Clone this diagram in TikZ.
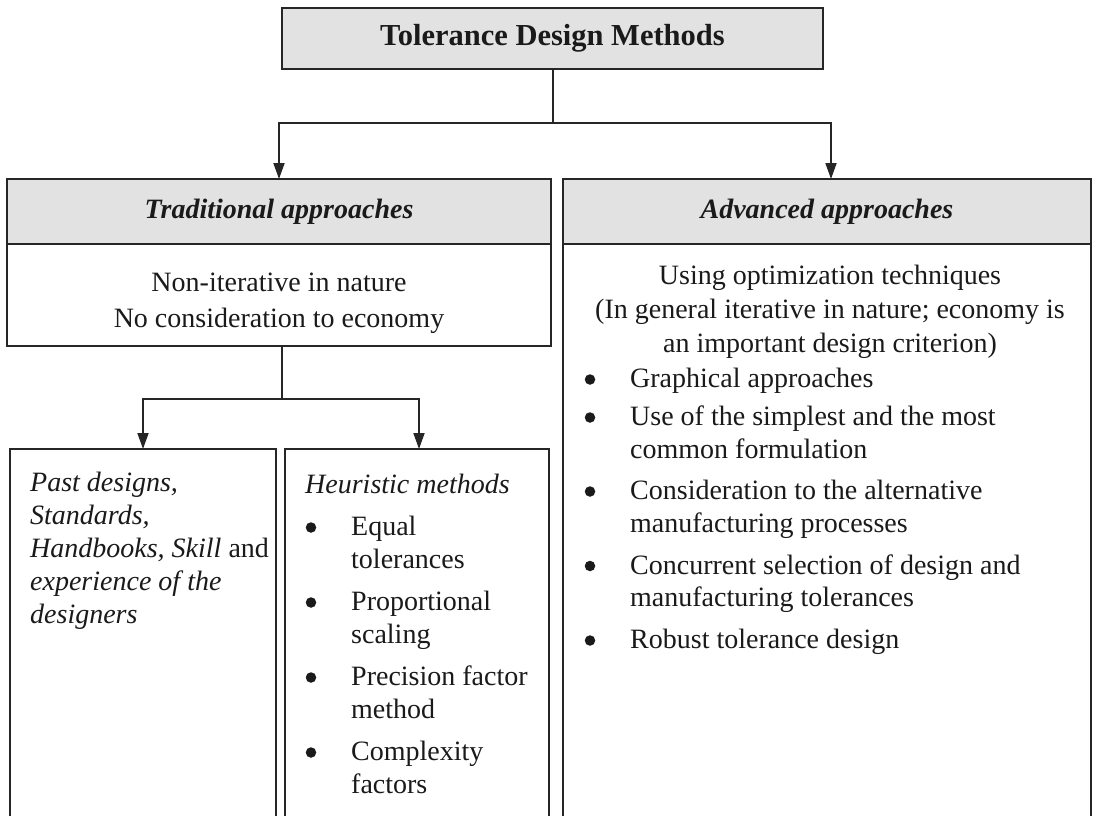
\documentclass[tikz,border=0pt]{standalone}
\usepackage{fontspec}
\setmainfont{Liberation Serif}
\usetikzlibrary{arrows.meta}
\definecolor{linec}{HTML}{262626}
\definecolor{headfill}{HTML}{E2E2E2}
\definecolor{inkc}{HTML}{1A1A1A}
\newcommand\bodysize{\fontsize{28}{33.5}\selectfont}
\newcommand\titlesize{\fontsize{30.5}{36}\selectfont}
\begin{document}
\begin{tikzpicture}[x=1pt,y=-1pt,
  frame/.style={draw=linec, line width=1.8pt, inner sep=0pt, outer sep=0pt},
  head/.style={frame, fill=headfill, text=inkc},
  conn/.style={draw=linec, line width=1.8pt, line join=miter},
  arr/.style={conn, -{Triangle[width=11pt,length=16pt]}},
  txt/.style={inner sep=0pt, anchor=base, font=\bodysize, text=inkc},
  ltxt/.style={txt, anchor=base west},
  itxt/.style={ltxt, font=\bodysize\itshape},
  dot/.style={circle, fill=inkc, inner sep=0pt, minimum size=10.5pt}]
\fill[white] (0,0) rectangle (1095,816);
\useasboundingbox (0,0) rectangle (1095,816);

% boxes
\node[head, minimum width=541pt, minimum height=61pt, font=\titlesize\bfseries] (top) at (552.5,38.5) {Tolerance Design Methods};
\node[frame, minimum width=544pt, minimum height=102pt] (tradbody) at (279,295) {};
\node[head, minimum width=544pt, minimum height=65pt, font=\bodysize\bfseries\itshape] (trad) at (279,211.5) {Traditional approaches};
\node[frame, minimum width=528pt, minimum height=596pt] (advbody) at (827,542) {};
\node[head, minimum width=528pt, minimum height=65pt, font=\bodysize\bfseries\itshape] (adv) at (827,211.5) {Advanced approaches};
\node[frame, minimum width=266pt, minimum height=391pt] (past) at (143,644.5) {};
\node[frame, minimum width=264pt, minimum height=391pt] (heur) at (417,644.5) {};

% connectors
\coordinate (j1) at (553,123);
\coordinate (jl) at (279,123);
\coordinate (jr) at (831,123);
\draw[conn] (j1 |- top.south) -- (j1);
\draw[arr] (j1) -- (jl) -- (trad.north);
\draw[arr] (j1) -- (jr) -- (jr |- adv.north);
\coordinate (j2) at (282,399);
\coordinate (jp) at (143,399);
\coordinate (jh) at (419,399);
\draw[conn] (j2 |- tradbody.south) -- (j2);
\draw[arr] (j2) -- (jp) -- (past.north);
\draw[arr] (j2) -- (jh) -- (jh |- heur.north);

% traditional approaches
\node[txt] (t1) at (279,291.5) {Non-iterative in nature};
\node[txt] (t2) at (279,327.5) {No consideration to economy};

% advanced approaches
\node[txt] (a1) at (830,284.5) {Using optimization techniques};
\node[txt] (a2) at (830,318.5) {(In general iterative in nature; economy is};
\node[txt] (a3) at (830,352) {an important design criterion)};
\node[dot] (b1) at (590,379.5) {};
\node[ltxt] (g1) at (630,387.5) {Graphical approaches};
\node[dot] (b2) at (590,417.5) {};
\node[ltxt] (g2) at (630,425.5) {Use of the simplest and the most};
\node[ltxt] (g2b) at (630,458) {common formulation};
\node[dot] (b3) at (590,491.5) {};
\node[ltxt] (g3) at (630,499.5) {Consideration to the alternative};
\node[ltxt] (g3b) at (630,532) {manufacturing processes};
\node[dot] (b4) at (590,566) {};
\node[ltxt] (g4) at (630,574) {Concurrent selection of design and};
\node[ltxt] (g4b) at (630,606.5) {manufacturing tolerances};
\node[dot] (b5) at (590,640.5) {};
\node[ltxt] (g5) at (630,648.5) {Robust tolerance design};

% past designs
\node[itxt] (p1) at (30,491.5) {Past designs,};
\node[itxt] (p2) at (30,524.5) {Standards,};
\node[itxt] (p3) at (30,557.5) {Handbooks, Skill \upshape and};
\node[itxt] (p4) at (30,590.5) {experience of the};
\node[itxt] (p5) at (30,623.5) {designers};

% heuristic methods
\node[itxt] (h0) at (305,493.5) {Heuristic methods};
\node[dot] (hb1) at (311,527.5) {};
\node[ltxt] (h1) at (351,535.5) {Equal};
\node[ltxt] (h1b) at (351,568.5) {tolerances};
\node[dot] (hb2) at (311,602.5) {};
\node[ltxt] (h2) at (351,610.5) {Proportional};
\node[ltxt] (h2b) at (351,643.5) {scaling};
\node[dot] (hb3) at (311,677.5) {};
\node[ltxt] (h3) at (351,685.5) {Precision factor};
\node[ltxt] (h3b) at (351,718.5) {method};
\node[dot] (hb4) at (311,752.5) {};
\node[ltxt] (h4) at (351,760.5) {Complexity};
\node[ltxt] (h4b) at (351,793.5) {factors};
\end{tikzpicture}
\end{document}
